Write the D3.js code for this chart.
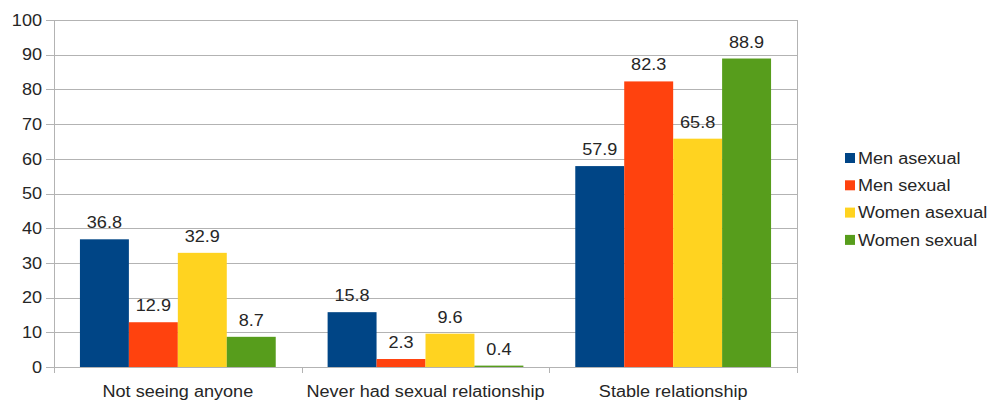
<!DOCTYPE html>
<html>
<head>
<meta charset="utf-8">
<script src="https://cdn.jsdelivr.net/npm/d3@7"></script>
<style>
  body { margin: 0; background: #fff; }
  svg { display: block; font-family: "Liberation Sans", Arial, sans-serif; }
</style>
</head>
<body>
<svg id="chart" width="990" height="403"></svg>
<script>
const categories = ["Not seeing anyone", "Never had sexual relationship", "Stable relationship"];
const seriesNames = ["Men asexual", "Men sexual", "Women asexual", "Women sexual"];
const menAsexual = [36.8, 15.8, 57.9];
const menSexual = [12.9, 2.3, 82.3];
const womenAsexual = [32.9, 9.6, 65.8];
const womenSexual = [8.7, 0.4, 88.9];
const yTicks = [0, 10, 20, 30, 40, 50, 60, 70, 80, 90, 100];
const colors = ["#004586", "#ff420e", "#ffd320", "#579d1c"];

const seriesValues = [menAsexual, menSexual, womenAsexual, womenSexual];

const svg = d3.select("#chart");
const plot = { left: 54, right: 797, top: 20, bottom: 367 };
const FONT = 16, STRETCH = 1.13, INK = "#262626";

// place a text with its anchor at (x, y), slightly widened
function place(sel, fx, fy) {
  return sel.attr("x", 0).attr("y", 0)
    .attr("transform", (d, i) => `translate(${fx(d, i)},${fy(d, i)}) scale(${STRETCH},1)`)
    .attr("font-size", FONT).attr("fill", INK);
}

const x0 = d3.scaleBand().domain(categories).range([plot.left, plot.right]).padding(0);
const x1 = d3.scaleBand().domain(seriesNames).range([0, x0.bandwidth()])
  .paddingInner(0).paddingOuter(0.53);
const y = d3.scaleLinear().domain([0, 100]).range([plot.bottom, plot.top]);

// horizontal gridlines
svg.append("g").selectAll("line").data(yTicks).join("line")
  .attr("x1", plot.left - 8).attr("x2", plot.right)
  .attr("y1", d => Math.round(y(d)) + 0.5).attr("y2", d => Math.round(y(d)) + 0.5)
  .attr("stroke", "#b3b3b3").attr("stroke-width", 1);

// y axis labels
place(svg.append("g").selectAll("text").data(yTicks).join("text"),
      () => plot.left - 12, d => y(d))
  .attr("dy", "0.36em").attr("text-anchor", "end")
  .text(d => d);

// left and right plot borders
svg.append("line").attr("x1", plot.left + 0.5).attr("x2", plot.left + 0.5)
  .attr("y1", plot.top).attr("y2", plot.bottom + 6).attr("stroke", "#b3b3b3");
svg.append("line").attr("x1", plot.right + 0.5).attr("x2", plot.right + 0.5)
  .attr("y1", plot.top).attr("y2", plot.bottom + 6).attr("stroke", "#b3b3b3");

// category separator ticks
const seps = categories.map(c => x0(c)).slice(1);
svg.append("g").selectAll("line").data(seps).join("line")
  .attr("x1", d => Math.round(d) + 0.5).attr("x2", d => Math.round(d) + 0.5)
  .attr("y1", plot.bottom).attr("y2", plot.bottom + 6).attr("stroke", "#b3b3b3");

// bars with value labels
const groups = svg.append("g").selectAll("g").data(categories).join("g")
  .attr("transform", c => `translate(${x0(c)},0)`);

groups.each(function(c, ci) {
  const g = d3.select(this);
  const rows = seriesNames.map((s, si) => ({ s, si, v: seriesValues[si][ci] }));
  g.selectAll("rect").data(rows).join("rect")
    .attr("x", d => x1(d.s)).attr("width", x1.bandwidth())
    .attr("y", d => y(d.v)).attr("height", d => y(0) - y(d.v))
    .attr("fill", d => colors[d.si]);
  place(g.selectAll("text").data(rows).join("text"),
        d => x1(d.s) + x1.bandwidth() / 2, d => y(d.v) - 11)
    .attr("text-anchor", "middle")
    .text(d => d.v);
});

// category labels
place(svg.append("g").selectAll("text").data(categories).join("text"),
      c => x0(c) + x0.bandwidth() / 2, () => plot.bottom + 30)
  .attr("text-anchor", "middle")
  .text(c => c);

// legend
const legend = svg.append("g").attr("transform", "translate(845,158)");
const items = legend.selectAll("g").data(seriesNames).join("g")
  .attr("transform", (d, i) => `translate(0,${i * 27.3})`);
items.append("rect").attr("x", 0).attr("y", -5).attr("width", 10).attr("height", 10)
  .attr("fill", (d, i) => colors[i]);
place(items.append("text"), () => 13, () => 0)
  .attr("dy", "0.36em").text(d => d);
</script>
</body>
</html>
